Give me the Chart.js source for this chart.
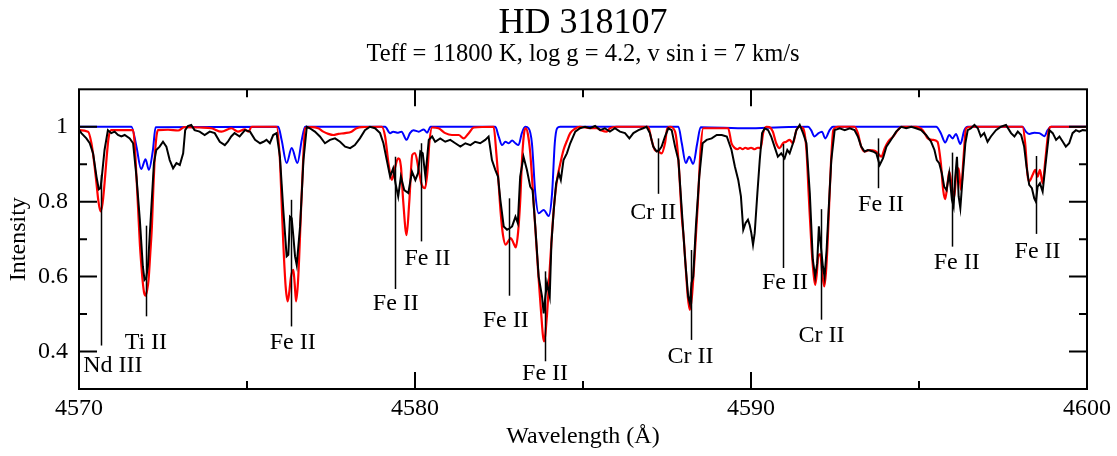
<!DOCTYPE html>
<html>
<head>
<meta charset="utf-8">
<script src="https://cdn.jsdelivr.net/npm/chart.js@4.4.1/dist/chart.umd.min.js"></script>
<style>
  html, body { margin: 0; padding: 0; background: #fff; }
</style>
</head>
<body>
<canvas id="grafico" width="1117" height="456"></canvas>
<script>
// espectro observado (negro)
const obsWave = [4569.97,4570.07,4570.22,4570.32,4570.42,4570.52,4570.59,4570.64,4570.68,4570.76,4570.86,4570.96,4571.06,4571.16,4571.26,4571.36,4571.51,4571.61,4571.71,4571.81,4571.90,4571.95,4572.00,4572.05,4572.15,4572.23,4572.30,4572.40,4572.50,4572.60,4572.70,4572.80,4572.90,4573.00,4573.10,4573.16,4573.24,4573.34,4573.44,4573.59,4573.74,4573.89,4574.04,4574.19,4574.34,4574.43,4574.53,4574.63,4574.78,4574.94,4575.09,4575.24,4575.39,4575.49,4575.58,4575.68,4575.78,4575.88,4575.98,4576.08,4576.18,4576.23,4576.28,4576.33,4576.38,4576.43,4576.48,4576.58,4576.68,4576.78,4576.87,4577.02,4577.17,4577.32,4577.47,4577.62,4577.77,4577.92,4578.07,4578.21,4578.36,4578.51,4578.66,4578.81,4578.96,4579.06,4579.16,4579.26,4579.35,4579.42,4579.50,4579.58,4579.68,4579.80,4579.91,4580.01,4580.09,4580.16,4580.23,4580.31,4580.41,4580.51,4580.60,4580.75,4580.90,4581.05,4581.20,4581.35,4581.50,4581.65,4581.79,4581.94,4582.09,4582.19,4582.29,4582.39,4582.47,4582.54,4582.64,4582.74,4582.82,4582.89,4582.99,4583.06,4583.13,4583.23,4583.33,4583.43,4583.50,4583.58,4583.68,4583.78,4583.83,4583.88,4583.93,4584.01,4584.06,4584.13,4584.20,4584.28,4584.34,4584.42,4584.52,4584.62,4584.77,4584.91,4585.06,4585.21,4585.36,4585.51,4585.65,4585.80,4585.95,4586.10,4586.25,4586.38,4586.50,4586.65,4586.79,4586.89,4586.99,4587.09,4587.19,4587.27,4587.34,4587.44,4587.54,4587.64,4587.74,4587.84,4587.94,4588.04,4588.13,4588.18,4588.23,4588.28,4588.36,4588.46,4588.56,4588.68,4588.83,4588.98,4589.13,4589.28,4589.42,4589.52,4589.62,4589.70,4589.77,4589.84,4589.91,4589.96,4590.01,4590.06,4590.11,4590.19,4590.26,4590.33,4590.41,4590.51,4590.60,4590.70,4590.80,4590.90,4591.00,4591.08,4591.15,4591.25,4591.35,4591.45,4591.55,4591.65,4591.75,4591.84,4591.91,4591.97,4592.02,4592.07,4592.14,4592.19,4592.25,4592.31,4592.39,4592.49,4592.64,4592.79,4592.94,4593.08,4593.18,4593.28,4593.38,4593.48,4593.63,4593.73,4593.83,4593.93,4594.03,4594.13,4594.23,4594.32,4594.47,4594.62,4594.77,4594.91,4595.06,4595.21,4595.36,4595.46,4595.53,4595.60,4595.68,4595.75,4595.82,4595.90,4595.98,4596.03,4596.08,4596.13,4596.18,4596.23,4596.30,4596.38,4596.45,4596.55,4596.65,4596.75,4596.84,4596.94,4597.04,4597.14,4597.29,4597.44,4597.59,4597.74,4597.84,4597.94,4598.04,4598.13,4598.20,4598.28,4598.36,4598.43,4598.48,4598.53,4598.60,4598.68,4598.78,4598.88,4598.98,4599.08,4599.18,4599.28,4599.37,4599.47,4599.57,4599.67,4599.77,4599.87,4600.00];
const obsFlux = [0.996,0.983,0.969,0.956,0.929,0.867,0.833,0.836,0.867,0.938,0.991,0.983,0.987,0.978,0.974,0.978,0.969,0.956,0.867,0.752,0.627,0.591,0.596,0.627,0.778,0.903,0.938,0.947,0.960,0.947,0.911,0.889,0.903,0.898,0.929,0.991,1.002,1.005,0.991,0.987,0.978,0.987,0.983,0.960,0.951,0.960,0.974,0.983,0.974,0.991,0.987,0.965,0.956,0.960,0.965,0.956,0.978,0.983,0.920,0.778,0.654,0.658,0.760,0.756,0.707,0.654,0.631,0.734,0.911,1.000,0.996,0.987,0.974,0.956,0.965,0.969,0.960,0.947,0.943,0.951,0.969,0.991,1.000,0.996,0.983,0.956,0.911,0.867,0.889,0.849,0.814,0.867,0.831,0.823,0.880,0.858,0.876,0.934,0.929,0.867,0.965,0.974,0.960,0.969,0.960,0.965,0.956,0.947,0.956,0.951,0.960,0.956,0.965,0.974,0.911,0.885,0.867,0.805,0.734,0.725,0.729,0.734,0.760,0.743,0.867,0.920,0.885,0.840,0.831,0.734,0.600,0.547,0.502,0.547,0.583,0.547,0.689,0.778,0.849,0.876,0.858,0.911,0.929,0.956,0.987,0.996,1.000,0.996,1.002,0.991,0.996,0.987,0.996,0.987,0.983,0.969,0.983,0.991,0.996,1.000,0.983,0.947,0.934,0.938,0.947,0.974,0.996,0.991,0.947,0.911,0.778,0.645,0.547,0.529,0.583,0.600,0.734,0.867,0.956,0.965,0.969,0.978,0.978,0.974,0.938,0.894,0.858,0.814,0.725,0.743,0.752,0.738,0.716,0.685,0.716,0.823,0.911,0.983,0.996,0.991,0.974,0.947,0.920,0.929,0.916,0.938,0.929,0.956,0.991,1.005,0.983,0.956,0.823,0.645,0.600,0.636,0.734,0.689,0.627,0.600,0.671,0.778,0.911,0.991,0.996,0.991,0.996,0.991,0.974,0.947,0.934,0.938,0.934,0.929,0.898,0.916,0.947,0.960,0.974,0.987,1.000,0.996,1.000,0.996,0.991,0.978,0.960,0.938,0.911,0.903,0.876,0.840,0.831,0.876,0.805,0.787,0.867,0.920,0.814,0.783,0.867,0.956,0.991,0.996,1.005,0.996,0.974,0.983,0.960,0.974,0.991,1.000,1.005,0.983,0.974,0.987,0.978,0.947,0.894,0.845,0.836,0.809,0.800,0.840,0.849,0.827,0.911,0.991,0.983,0.965,0.974,0.960,0.947,0.956,0.983,0.991,0.987,0.991,0.990];

// modelo rojo
const fitWave = [4569.97,4570.27,4570.37,4570.45,4570.52,4570.58,4570.64,4570.70,4570.76,4570.82,4570.88,4570.96,4571.30,4571.61,4571.66,4571.71,4571.76,4571.81,4571.86,4571.90,4571.94,4571.98,4572.03,4572.07,4572.12,4572.17,4572.21,4572.25,4572.30,4572.35,4572.65,4572.95,4573.14,4573.60,4573.94,4574.24,4574.53,4574.73,4574.93,4575.04,4575.14,4575.88,4575.98,4576.03,4576.08,4576.15,4576.21,4576.26,4576.31,4576.38,4576.42,4576.46,4576.51,4576.55,4576.60,4576.65,4576.73,4576.92,4577.12,4577.27,4577.42,4577.57,4577.72,4577.92,4578.11,4578.26,4578.41,4579.01,4579.11,4579.21,4579.31,4579.40,4579.50,4579.58,4579.65,4579.75,4579.83,4579.92,4580.00,4580.10,4580.20,4580.30,4580.37,4580.43,4580.51,4580.70,4580.90,4581.10,4581.30,4581.45,4581.60,4581.75,4582.34,4582.42,4582.48,4582.55,4582.62,4582.70,4582.78,4582.85,4582.93,4583.00,4583.07,4583.13,4583.19,4583.25,4583.30,4583.36,4583.43,4583.50,4583.58,4583.66,4583.74,4583.84,4583.93,4584.01,4584.08,4584.15,4584.23,4584.32,4584.42,4584.52,4584.62,4584.75,4584.91,4585.21,4585.41,4585.55,4585.70,4585.80,4586.00,4586.94,4587.04,4587.14,4587.24,4587.34,4587.44,4587.51,4587.59,4587.74,4587.84,4587.94,4588.00,4588.06,4588.12,4588.18,4588.24,4588.30,4588.36,4588.42,4588.50,4588.58,4589.32,4589.42,4589.52,4589.60,4589.67,4589.75,4589.83,4589.91,4590.00,4590.11,4590.20,4590.29,4590.36,4590.46,4590.55,4590.65,4590.75,4590.85,4590.95,4591.05,4591.15,4591.25,4591.35,4591.45,4591.55,4591.65,4591.72,4591.80,4591.86,4591.91,4591.96,4592.00,4592.06,4592.12,4592.18,4592.23,4592.28,4592.33,4592.38,4592.45,4592.59,4593.08,4593.18,4593.28,4593.38,4593.53,4593.68,4593.78,4593.88,4593.98,4594.08,4594.23,4594.37,4594.47,4594.91,4595.11,4595.26,4595.41,4595.55,4595.65,4595.72,4595.78,4595.85,4595.90,4595.98,4596.05,4596.12,4596.18,4596.25,4596.32,4596.40,4596.55,4598.08,4598.16,4598.23,4598.28,4598.38,4598.46,4598.53,4598.60,4598.68,4598.76,4598.86,4598.93,4600.00];
const fitFlux = [0.991,0.987,0.956,0.905,0.849,0.800,0.774,0.795,0.849,0.915,0.970,0.991,0.991,0.991,0.950,0.867,0.780,0.689,0.625,0.583,0.556,0.549,0.565,0.591,0.660,0.734,0.830,0.911,0.970,0.991,0.992,0.990,0.999,0.998,0.996,0.987,0.996,0.987,0.993,0.987,1.000,1.000,0.911,0.800,0.689,0.574,0.534,0.560,0.600,0.618,0.580,0.534,0.575,0.645,0.760,0.867,0.996,0.999,0.996,0.987,0.981,0.978,0.981,0.983,0.987,0.996,0.999,1.000,0.974,0.903,0.858,0.889,0.916,0.895,0.800,0.711,0.800,0.925,0.930,0.890,0.845,0.836,0.880,0.960,0.998,0.996,0.983,0.978,0.978,0.969,0.983,0.998,1.000,0.930,0.860,0.770,0.710,0.685,0.695,0.703,0.690,0.678,0.720,0.800,0.920,0.985,0.996,0.980,0.930,0.840,0.730,0.620,0.520,0.427,0.500,0.620,0.720,0.800,0.860,0.900,0.938,0.962,0.983,0.994,1.000,0.996,0.996,0.990,0.987,0.996,1.000,1.000,0.965,0.938,0.934,0.929,0.956,0.996,1.000,0.987,0.911,0.760,0.700,0.620,0.545,0.511,0.545,0.620,0.710,0.800,0.940,0.996,0.996,0.956,0.943,0.940,0.944,0.940,0.944,0.941,0.944,0.940,0.944,0.943,0.983,1.000,0.999,0.987,0.956,0.943,0.956,0.960,0.965,0.956,0.991,1.000,0.996,0.938,0.814,0.680,0.610,0.578,0.610,0.654,0.660,0.610,0.574,0.610,0.690,0.800,0.903,0.991,1.000,1.000,0.983,0.947,0.934,0.938,0.936,0.929,0.920,0.943,0.960,0.974,0.991,1.000,1.000,0.991,0.969,0.965,0.960,0.903,0.831,0.807,0.849,0.880,0.840,0.812,0.885,0.889,0.831,0.911,0.996,1.000,1.000,0.956,0.871,0.854,0.871,0.885,0.867,0.885,0.849,0.911,0.991,1.000,1.000];

// modelo azul
const blueWave = [4569.97,4571.56,4571.71,4571.85,4571.98,4572.08,4572.20,4572.28,4575.93,4576.03,4576.18,4576.33,4576.50,4576.63,4576.73,4579.11,4579.26,4579.35,4579.50,4579.60,4579.75,4579.85,4579.95,4580.11,4580.26,4580.36,4580.46,4582.39,4582.49,4582.59,4582.69,4582.79,4582.89,4582.99,4583.08,4583.18,4583.28,4583.38,4583.48,4583.58,4583.68,4583.83,4583.98,4584.08,4584.16,4584.23,4584.32,4587.84,4587.94,4588.06,4588.16,4588.28,4588.40,4588.50,4589.90,4590.90,4591.70,4591.79,4591.89,4592.01,4592.11,4592.21,4592.34,4592.44,4595.51,4595.65,4595.78,4595.90,4596.00,4596.10,4596.23,4596.35,4596.45,4598.08,4598.18,4598.28,4598.43,4598.58,4598.73,4598.83,4598.93,4600.00];
const blueFlux = [1.000,1.000,0.947,0.887,0.913,0.885,0.938,0.999,1.000,0.965,0.903,0.943,0.903,0.965,1.000,1.000,0.983,0.987,0.984,0.987,0.965,0.983,0.991,0.987,0.993,0.984,1.000,1.000,0.974,0.951,0.960,0.956,0.963,0.956,0.951,0.983,1.000,0.996,0.956,0.823,0.769,0.778,0.762,0.823,0.956,0.996,1.000,1.000,0.956,0.903,0.920,0.901,0.956,0.999,0.996,0.999,1.000,0.991,0.974,0.983,0.987,0.969,0.991,1.000,1.000,0.983,0.958,0.978,0.969,0.981,0.954,0.991,1.000,1.000,0.987,0.981,0.984,0.983,0.975,0.991,1.000,1.000];

// identificación de líneas
const lineNames  = ["Nd III","Ti II","Fe II","Fe II","Fe II","Fe II","Fe II","Cr II","Cr II","Fe II","Cr II","Fe II","Fe II","Fe II"];
const lineWave   = [4570.65,4571.98,4576.31,4579.40,4580.18,4582.81,4583.87,4587.24,4588.20,4590.96,4592.08,4593.77,4595.99,4598.48];
const lineTop    = [0.871,0.736,0.805,0.920,0.956,0.809,0.614,0.969,0.671,0.954,0.780,0.969,0.931,0.922];
const lineBottom = [0.416,0.494,0.467,0.567,0.694,0.549,0.374,0.821,0.431,0.623,0.485,0.836,0.680,0.714];
const labelWave  = [4571.01,4571.99,4576.36,4579.43,4580.37,4582.70,4583.87,4587.09,4588.20,4591.01,4592.10,4593.87,4596.12,4598.53];
const labelFlux  = [0.362,0.424,0.423,0.527,0.647,0.483,0.341,0.771,0.387,0.583,0.441,0.792,0.638,0.667];

// ejes
const xMajor = [4570, 4580, 4590, 4600];
const xMinor = [4575, 4585, 4595];
const yMajor = [0.4, 0.6, 0.8, 1.0];
const yMinor = [0.5, 0.7, 0.9];

const FONT = '"Liberation Serif", "Times New Roman", serif';

const toPoints = (xs, ys) => xs.map((w, i) => ({ x: w, y: ys[i] }));

const marco = {
  id: "marco",
  afterDatasetsDraw(chart) {
    const { ctx, chartArea: a, scales: { x, y } } = chart;
    ctx.save();
    ctx.strokeStyle = "#000";
    ctx.fillStyle = "#000";

    // líneas de identificación
    ctx.lineWidth = 1.5;
    lineWave.forEach((w, i) => {
      const px = Math.round(x.getPixelForValue(w)) + 0.5;
      ctx.beginPath();
      ctx.moveTo(px, y.getPixelForValue(lineTop[i]));
      ctx.lineTo(px, y.getPixelForValue(lineBottom[i]));
      ctx.stroke();
    });
    ctx.font = "24px " + FONT;
    ctx.textAlign = "center";
    ctx.textBaseline = "middle";
    lineNames.forEach((n, i) => {
      ctx.fillText(n, x.getPixelForValue(labelWave[i]), y.getPixelForValue(labelFlux[i]));
    });

    // marco y ticks hacia adentro
    ctx.lineWidth = 2;
    ctx.strokeRect(a.left, a.top, a.right - a.left, a.bottom - a.top);
    const tickX = (v, len) => {
      const px = x.getPixelForValue(v);
      ctx.beginPath();
      ctx.moveTo(px, a.bottom); ctx.lineTo(px, a.bottom - len);
      ctx.moveTo(px, a.top); ctx.lineTo(px, a.top + len);
      ctx.stroke();
    };
    const tickY = (v, len) => {
      const py = y.getPixelForValue(v);
      ctx.beginPath();
      ctx.moveTo(a.left, py); ctx.lineTo(a.left + len, py);
      ctx.moveTo(a.right, py); ctx.lineTo(a.right - len, py);
      ctx.stroke();
    };
    xMajor.forEach(v => tickX(v, 17));
    xMinor.forEach(v => tickX(v, 8));
    yMajor.forEach(v => tickY(v, 18));
    yMinor.forEach(v => tickY(v, 8));
    ctx.restore();
  }
};

const ctx = document.getElementById("grafico");

new Chart(ctx, {
  type: "line",
  data: {
    datasets: [
      {
        label: "Observado",
        data: toPoints(obsWave, obsFlux),
        borderColor: "#000000",
        borderWidth: 2,
        pointRadius: 0,
        tension: 0
      },
      {
        label: "Modelo",
        data: toPoints(fitWave, fitFlux),
        borderColor: "#ff0000",
        borderWidth: 2.2,
        pointRadius: 0,
        cubicInterpolationMode: "monotone"
      },
      {
        label: "Modelo 2",
        data: toPoints(blueWave, blueFlux),
        borderColor: "#0000ff",
        borderWidth: 2,
        pointRadius: 0,
        cubicInterpolationMode: "monotone"
      }
    ]
  },
  options: {
    responsive: false,
    animation: false,
    devicePixelRatio: 1,
    layout: { padding: { left: 0, right: 30, top: 0, bottom: 0 } },
    plugins: {
      legend: { display: false },
      tooltip: { enabled: false },
      title: {
        display: true,
        fullSize: false,
        text: "HD 318107",
        color: "#000",
        font: { family: FONT, size: 36, weight: "normal", lineHeight: 1 },
        padding: { top: 6, bottom: 0 }
      },
      subtitle: {
        display: true,
        fullSize: false,
        text: "Teff = 11800 K, log g = 4.2, v sin i = 7 km/s",
        color: "#000",
        font: { family: FONT, size: 24.5, weight: "normal", lineHeight: 1 },
        padding: { top: 0, bottom: 22.8 }
      }
    },
    scales: {
      x: {
        type: "linear",
        min: 4570,
        max: 4600,
        grid: { display: false, drawTicks: false },
        border: { display: false },
        afterFit(scale) { scale.height = 67; },
        afterBuildTicks(scale) { scale.ticks = xMajor.map(v => ({ value: v })); },
        ticks: {
          color: "#000",
          padding: 5,
          maxRotation: 0,
          font: { family: FONT, size: 24 },
          callback: v => String(v)
        },
        title: {
          display: true,
          text: "Wavelength (Å)",
          color: "#000",
          font: { family: FONT, size: 24 },
          padding: { top: 0, bottom: 4.6 }
        }
      },
      y: {
        type: "linear",
        min: 0.3,
        max: 1.1,
        grid: { display: false, drawTicks: false },
        border: { display: false },
        afterFit(scale) { scale.width = 79; },
        afterBuildTicks(scale) { scale.ticks = yMajor.map(v => ({ value: v })); },
        ticks: {
          color: "#000",
          padding: 11,
          font: { family: FONT, size: 24 },
          callback: v => String(Math.round(v * 10) / 10)
        },
        title: {
          display: true,
          text: "Intensity",
          color: "#000",
          font: { family: FONT, size: 24 },
          padding: { top: 4, bottom: 0 }
        }
      }
    }
  },
  plugins: [marco]
});
</script>
</body>
</html>
